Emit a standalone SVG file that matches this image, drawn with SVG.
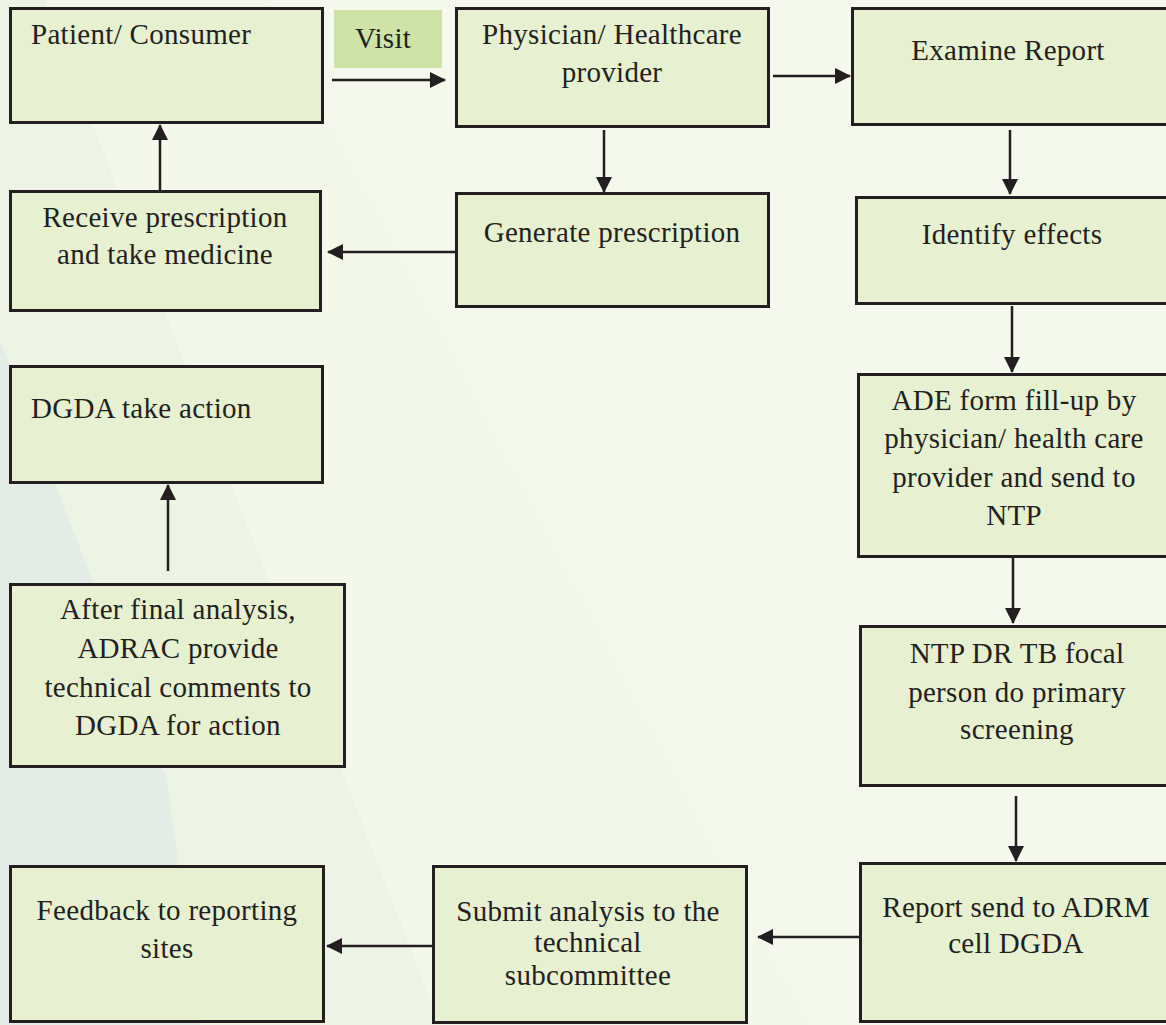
<svg xmlns="http://www.w3.org/2000/svg" width="1166" height="1025" viewBox="0 0 1166 1025">
  <style>
    .box { fill: #e7f0d0; stroke: #231f20; stroke-width: 3; }
    .lbl { font-family: "Liberation Serif", "Times New Roman", serif; font-size: 29px; fill: #231f20; letter-spacing: 0.3px; }
    .c { text-anchor: middle; }
    .conn { stroke: #231f20; stroke-width: 2.5; fill: none; marker-end: url(#arrow); }
  </style>
  <defs>
    <marker id="arrow" markerUnits="userSpaceOnUse" markerWidth="16" markerHeight="16" refX="15" refY="8" orient="auto">
      <path d="M0,0 L16,8 L0,16 z" fill="#231f20"/>
    </marker>
  </defs>

  <!-- background -->
  <g id="background">
    <rect x="0" y="0" width="1166" height="1025" fill="#f4f8ea"/>
    <polygon points="267,0 1166,0 1166,1025 810,1025" fill="#f5f8ec"/>
    <polygon points="0,0 45,0 440,1025 0,1025" fill="#eef4e5"/>
    <polygon points="0,340 92,580 167,780 200,1025 0,1025" fill="#e4ece6"/>
  </g>

  <g id="connectors">
    <line class="conn" x1="332" y1="80" x2="445" y2="80"/>
    <line class="conn" x1="773" y1="76" x2="850" y2="76"/>
    <line class="conn" x1="604" y1="130" x2="604" y2="192"/>
    <line class="conn" x1="1010" y1="130" x2="1010" y2="194"/>
    <line class="conn" x1="455" y1="252" x2="328" y2="252"/>
    <line class="conn" x1="160" y1="190" x2="160" y2="125"/>
    <line class="conn" x1="1012" y1="306" x2="1012" y2="372"/>
    <line class="conn" x1="1013" y1="558" x2="1013" y2="623"/>
    <line class="conn" x1="1016" y1="796" x2="1016" y2="861"/>
    <line class="conn" x1="859" y1="937" x2="758" y2="937"/>
    <line class="conn" x1="432" y1="946" x2="327" y2="946"/>
    <line class="conn" x1="168" y1="571" x2="168" y2="485"/>
  </g>

  <g id="visit-label">
    <rect x="334" y="10" width="108" height="58" fill="#cfe3a9"/>
    <text class="lbl" x="355" y="48">Visit</text>
  </g>

  <g id="patient">
    <rect class="box" x="10.5" y="8.5" width="312" height="114"/>
    <text class="lbl" x="31" y="44">Patient/ Consumer</text>
  </g>

  <g id="physician">
    <rect class="box" x="456.5" y="8.5" width="312" height="118"/>
    <text class="lbl c" x="612" y="44">Physician/ Healthcare</text>
    <text class="lbl c" x="612" y="82">provider</text>
  </g>

  <g id="examine">
    <rect class="box" x="852.5" y="8.5" width="320" height="116"/>
    <text class="lbl c" x="1008" y="60">Examine Report</text>
  </g>

  <g id="generate">
    <rect class="box" x="456.5" y="193.5" width="312" height="113"/>
    <text class="lbl c" x="612" y="242">Generate prescription</text>
  </g>

  <g id="identify">
    <rect class="box" x="856.5" y="197.5" width="320" height="106"/>
    <text class="lbl c" x="1012" y="244">Identify effects</text>
  </g>

  <g id="receive">
    <rect class="box" x="10.5" y="191.5" width="310" height="119"/>
    <text class="lbl c" x="165" y="227">Receive prescription</text>
    <text class="lbl c" x="165" y="264">and take medicine</text>
  </g>

  <g id="dgda">
    <rect class="box" x="10.5" y="366.5" width="312" height="116"/>
    <text class="lbl" x="31" y="418">DGDA take action</text>
  </g>

  <g id="adrac">
    <rect class="box" x="10.5" y="584.5" width="334" height="182"/>
    <text class="lbl c" x="178" y="619">After final analysis,</text>
    <text class="lbl c" x="178" y="658">ADRAC provide</text>
    <text class="lbl c" x="178" y="697">technical comments to</text>
    <text class="lbl c" x="178" y="735">DGDA for action</text>
  </g>

  <g id="ade">
    <rect class="box" x="858.5" y="374.5" width="320" height="182"/>
    <text class="lbl c" x="1014" y="410">ADE form fill-up by</text>
    <text class="lbl c" x="1014" y="448">physician/ health care</text>
    <text class="lbl c" x="1014" y="487">provider and send to</text>
    <text class="lbl c" x="1014" y="525">NTP</text>
  </g>

  <g id="ntp">
    <rect class="box" x="860.5" y="626.5" width="320" height="159"/>
    <text class="lbl c" x="1017" y="663">NTP DR TB focal</text>
    <text class="lbl c" x="1017" y="702">person do primary</text>
    <text class="lbl c" x="1017" y="739">screening</text>
  </g>

  <g id="report">
    <rect class="box" x="860.5" y="863.5" width="320" height="158"/>
    <text class="lbl c" x="1016" y="917">Report send to ADRM</text>
    <text class="lbl c" x="1016" y="953">cell DGDA</text>
  </g>

  <g id="submit">
    <rect class="box" x="433.5" y="866.5" width="313" height="156"/>
    <text class="lbl c" x="588" y="921">Submit analysis to the</text>
    <text class="lbl c" x="588" y="952">technical</text>
    <text class="lbl c" x="588" y="985">subcommittee</text>
  </g>

  <g id="feedback">
    <rect class="box" x="10.5" y="866.5" width="313" height="155"/>
    <text class="lbl c" x="167" y="920">Feedback to reporting</text>
    <text class="lbl c" x="167" y="958">sites</text>
  </g>
</svg>
